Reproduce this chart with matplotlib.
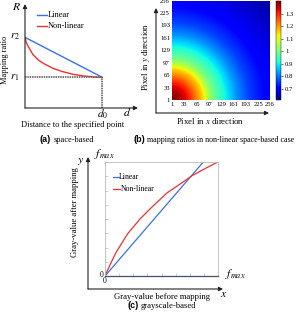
import numpy as np
import matplotlib
matplotlib.use("Agg")
import matplotlib.pyplot as plt

plt.rcParams['font.family'] = ['Liberation Serif', 'DejaVu Serif']
plt.rcParams['mathtext.fontset'] = 'stix'

W, H = 297, 312

# ---------- data ----------
# (a) space-based mapping ratio
r2, r1, d0 = 0.686, 0.298, 0.69
linear_a_d = [0.0, d0]
linear_a_R = [r2, r1]
nonlin_a_d = [0.0, 0.01, 0.03, 0.07, 0.12, 0.17, 0.25, 0.33, 0.43, 0.53, 0.62, 0.69]
nonlin_a_R = [0.686, 0.64, 0.595, 0.52, 0.465, 0.43, 0.385, 0.355, 0.327, 0.31, 0.301, 0.298]

# (b) radial profile of mapping ratio (distance from pixel (1,1))
prof_radius = [0, 25, 45, 63, 80, 90, 106, 140, 170, 200, 250, 300, 365]
prof_ratio = [1.40, 1.36, 1.30, 1.22, 1.15, 1.08, 1.0, 0.90, 0.82, 0.76, 0.70, 0.67, 0.63]
pix_ticks = [1, 33, 65, 97, 129, 161, 193, 225, 256]
cbar_ticks = [0.7, 0.8, 0.9, 1.0, 1.1, 1.2, 1.3]
cbar_labels = ['0.7', '0.8', '0.9', '1', '1.1', '1.2', '1.3']

# (c) grayscale-based mapping
linear_c_x = [0.0, 0.87]
linear_c_y = [0.0, 1.0]
nonlin_c_x = [0.0, 0.05, 0.1, 0.2, 0.31, 0.4, 0.55, 0.7, 0.77, 0.9, 1.0]
nonlin_c_y = [0.0, 0.11, 0.21, 0.37, 0.50, 0.59, 0.73, 0.83, 0.88, 0.95, 1.0]

BLUE = '#3a6ff0'
RED = '#f03030'


def rect(x0, y0, x1, y1):
    return [x0 / W, 1 - y1 / H, (x1 - x0) / W, (y1 - y0) / H]


fig = plt.figure(figsize=(W / 100, H / 100), dpi=100)

# ---------- (a) ----------
axa = fig.add_axes(rect(25, 5, 137, 108))
axa.set_xlim(0, 1)
axa.set_ylim(0, 1)
axa.axis('off')
axa.plot(linear_a_d, linear_a_R, color=BLUE, lw=1.0)
axa.plot(nonlin_a_d, nonlin_a_R, color=RED, lw=1.0)
axa.plot([0, d0], [r1, r1], color='#666666', lw=1.3, ls=(0, (0.8, 0.5)))
axa.plot([d0, d0], [0, r1], color='#666666', lw=1.3, ls=(0, (0.8, 0.5)))

# ---------- (b) ----------
axb = fig.add_axes(rect(172, 1, 270, 100))
px = np.arange(1, 257)
xx, yy = np.meshgrid(px, px)
dist = np.hypot(xx - 1, yy - 1)
grid = np.interp(dist, prof_radius, prof_ratio)
im = axb.imshow(grid, origin='lower', extent=[1, 256, 1, 256], cmap='jet',
                vmin=0.61, vmax=1.40, aspect='auto')
axb.set_xticks(pix_ticks)
axb.set_yticks(pix_ticks)
axb.set_xticklabels([str(t) for t in pix_ticks], fontsize=4.8)
axb.set_yticklabels([str(t) for t in pix_ticks], fontsize=4.8)
axb.tick_params(length=0, pad=1.5)
for s in axb.spines.values():
    s.set_visible(False)

cax = fig.add_axes(rect(276, 1, 281, 100))
cb = fig.colorbar(im, cax=cax, ticks=cbar_ticks)
cb.set_ticklabels(cbar_labels)
cb.ax.tick_params(labelsize=4.8, length=1.5, width=0.4, pad=1.5)
cb.outline.set_linewidth(0.3)

# ---------- (c) ----------
axc = fig.add_axes(rect(105, 162, 218, 276))
axc.set_xlim(0, 1)
axc.set_ylim(0, 1)
axc.plot(linear_c_x, linear_c_y, color=BLUE, lw=0.9)
axc.plot(nonlin_c_x, nonlin_c_y, color=RED, lw=0.9)
axc.set_xticks(np.linspace(0, 1, 9))
axc.set_yticks(np.linspace(0, 1, 9))
axc.set_xticklabels([])
axc.set_yticklabels([])
axc.tick_params(direction='in', length=2, width=0.5, color='#bbbbbb')
for s in axc.spines.values():
    s.set_color('#bbbbbb')
    s.set_linewidth(0.6)
axc.spines['bottom'].set_color('#445066')
axc.spines['bottom'].set_linewidth(0.9)

# ---------- overlay for arrows and text (pixel coordinates) ----------
ov = fig.add_axes([0, 0, 1, 1])
ov.set_xlim(0, W)
ov.set_ylim(H, 0)
ov.axis('off')


def arrow(x0, y0, x1, y1):
    ov.annotate('', xy=(x1, y1), xytext=(x0, y0),
                arrowprops=dict(arrowstyle='-|>', lw=0.8, color='#222222',
                                mutation_scale=6, shrinkA=0, shrinkB=0))


def txt(x, y, s, **kw):
    kw.setdefault('fontsize', 6)
    kw.setdefault('ha', 'center')
    kw.setdefault('va', 'center')
    ov.text(x, y, s, **kw)


# (a)
arrow(25, 108, 25, 4)
arrow(25, 108, 138, 108)
txt(17, 7, '$R$', fontsize=8.5)
txt(127, 113, '$d$', fontsize=8.5)
txt(15, 37, '$r_2$', fontsize=8)
txt(15, 78, '$r_1$', fontsize=8)
txt(103, 114, '$d_0$', fontsize=8)
ov.plot([37, 47], [15, 15], color=BLUE, lw=1.0)
txt(48, 15, 'Linear', ha='left')
ov.plot([37, 47], [26, 26], color=RED, lw=1.0)
txt(48, 26, 'Non-linear', ha='left')
txt(5, 60, 'Mapping ratio', rotation=90)
txt(73, 125, 'Distance to the specified point')
ov.text(40, 140, '(a)', fontsize=6.5, fontweight='bold', family='Liberation Sans',
        ha='left', va='center')
txt(54, 140, 'space-based', ha='left')

# (b)
arrow(156, 113, 156, 8)
arrow(156, 113, 269, 113)
txt(210, 121, 'Pixel in $x$ direction', fontsize=6.3)
txt(146, 57, 'Pixel in $y$ direction', rotation=90, fontsize=6.3)
ov.text(134, 140, '(b)', fontsize=6.5, fontweight='bold', family='Liberation Sans',
        ha='left', va='center')
txt(147, 140, 'mapping ratios in non-linear space-based case', ha='left', fontsize=5.8)

# (c)
arrow(88, 289, 88, 157)
arrow(88, 289, 223, 289)
txt(81, 161, '$y$', fontsize=8.5)
txt(104, 154, '$f_{max}$', fontsize=8.5)
txt(235, 274, '$f_{max}$', fontsize=8.5)
txt(224, 294, '$x$', fontsize=8.5)
txt(102, 275, '0', fontsize=5.5)
txt(105, 281, '0', fontsize=5.5)
ov.plot([113, 119], [177, 177], color=BLUE, lw=0.9)
txt(119, 177, 'Linear', ha='left', fontsize=5.6)
ov.plot([113, 120], [189, 189], color=RED, lw=0.9)
txt(121, 189, 'Non-linear', ha='left', fontsize=5.6)
txt(75, 212, 'Gray-value after mapping', rotation=90, fontsize=6.2)
txt(162, 297, 'Gray-value before mapping', fontsize=6.2)
ov.text(127, 306, '(c)', fontsize=6.5, fontweight='bold', family='Liberation Sans',
        ha='left', va='center')
txt(141, 306, 'grayscale-based', ha='left', fontsize=6.2)

fig.savefig('out.png', dpi=100)
